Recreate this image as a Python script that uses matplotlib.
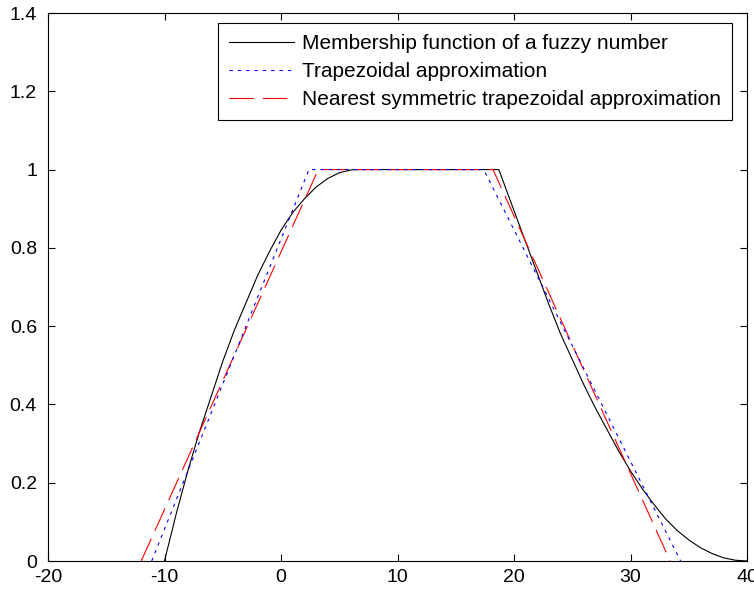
import matplotlib
matplotlib.use("Agg")
import matplotlib.pyplot as plt

plt.rcParams['font.family'] = ['Liberation Sans', 'DejaVu Sans']
plt.rcParams['axes.unicode_minus'] = False

# membership function of the fuzzy number
mu_x = [-10, -9, -8, -7, -6, -5, -4, -3, -2, -1, 0, 1, 2, 3, 4, 5, 6, 6.5,
        18.7, 20, 21, 22, 23, 24, 25, 26, 27, 28, 29, 30, 31, 32, 33, 34,
        35, 36, 37, 38, 39, 40]
mu_y = [0, 0.12, 0.23, 0.33, 0.42, 0.51, 0.59, 0.66, 0.73, 0.79, 0.845,
        0.89, 0.925, 0.955, 0.977, 0.992, 0.999, 1.0,
        1.0, 0.895, 0.815, 0.735, 0.655, 0.58, 0.515, 0.45, 0.39, 0.335,
        0.28, 0.23, 0.185, 0.145, 0.108, 0.078, 0.054, 0.034, 0.019,
        0.008, 0.002, 0.0]

# trapezoidal approximation
trap_x = [-11.1, 2.4, 17.4, 34.3]
trap_y = [0, 1, 1, 0]

# nearest symmetric trapezoidal approximation
sym_x = [-12.0, 3.2, 18.2, 33.4]
sym_y = [0, 1, 1, 0]

labels = ["Membership function of a fuzzy number",
          "Trapezoidal approximation",
          "Nearest symmetric trapezoidal approximation"]

xticks = [-20, -10, 0, 10, 20, 30, 40]
yticks = [0, 0.2, 0.4, 0.6, 0.8, 1, 1.2, 1.4]
ytick_labels = ["0", "0.2", "0.4", "0.6", "0.8", "1", "1.2", "1.4"]

fig = plt.figure(figsize=(7.54, 5.94), dpi=100)
ax = fig.add_axes([48/754, 33/594, 699/754, 548/594])

ax.plot(mu_x, mu_y, color='k', lw=0.8, label=labels[0], zorder=2)
ax.plot(trap_x, trap_y, color='b', lw=0.8, linestyle=(0, (3, 4.5)),
        label=labels[1], zorder=2.2)
ax.plot(sym_x, sym_y, color='r', lw=0.8, linestyle=(0, (22, 8)),
        label=labels[2], zorder=2.1)

ax.set_xlim(-20, 40)
ax.set_ylim(0, 1.4)
ax.set_xticks(xticks)
ax.set_yticks(yticks)
ax.set_yticklabels(ytick_labels)
ax.tick_params(direction='in', length=5, width=0.8, top=True, right=True,
               labelsize=14, pad=6)
ax.tick_params(axis='y', pad=8)
for s in ax.spines.values():
    s.set_linewidth(0.8)

leg = ax.legend(loc='upper right', bbox_to_anchor=(0.9785, 0.9818),
                borderaxespad=0, fontsize=15, frameon=True, fancybox=False,
                edgecolor='k', framealpha=1, handlelength=3.1,
                handletextpad=0.38, labelspacing=0.42, borderpad=0.55)
leg.get_frame().set_linewidth(0.8)

fig.savefig("out.png", dpi=100)
plt.close()
